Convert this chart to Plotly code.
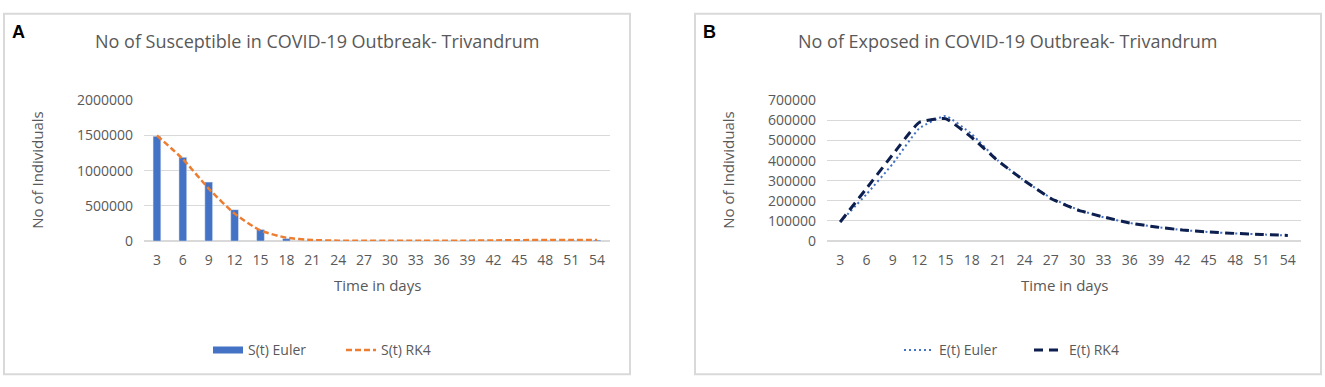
import plotly.graph_objects as go

days = [3, 6, 9, 12, 15, 18, 21, 24, 27, 30, 33, 36, 39, 42, 45, 48, 51, 54]
day_labels = [str(d) for d in days]

s_euler = [1490000, 1190000, 838000, 446000, 166000, 35000, 8000, 3000, 2000,
           2000, 2000, 2000, 3000, 5000, 8000, 10000, 12000, 14000]
s_rk4 = [1500000, 1165000, 745000, 390000, 150000, 48000, 15000, 6000, 4000,
         3000, 3000, 4000, 6000, 9000, 13000, 15000, 16000, 16000]

e_euler = [95000, 233000, 385000, 560000, 622000, 531000, 400000, 300000, 215000,
           158000, 118000, 90000, 70000, 55000, 45000, 38000, 33000, 28000]
e_rk4 = [95000, 262000, 431000, 590000, 609000, 515000, 398000, 300000, 212000,
         155000, 120000, 90000, 70000, 55000, 45000, 38000, 33000, 28000]

W, H = 1325, 387
FONT = "Open Sans"
GREY = "#595959"
GRID = "#d9d9d9"

def px(x):
    return x / W

def py(y):
    return 1 - y / H

fig = go.Figure()

# Panel A
fig.add_trace(go.Bar(x=day_labels, y=s_euler, marker_color="#4472C4", showlegend=False,
                     xaxis="x", yaxis="y", name="S(t) Euler"))
fig.add_trace(go.Scatter(x=[None], y=[None], mode="lines", name="S(t) Euler",
                         line=dict(color="#4472C4", width=7), xaxis="x", yaxis="y",
                         legend="legend"))
fig.add_trace(go.Scatter(x=day_labels, y=s_rk4, mode="lines", name="S(t) RK4",
                         line=dict(color="#ED7D31", width=2.5, dash="6px,3px", shape="spline", smoothing=0.6),
                         xaxis="x", yaxis="y", legend="legend"))

# Panel B
fig.add_trace(go.Scatter(x=day_labels, y=e_euler, mode="lines", name="E(t) Euler",
                         line=dict(color="#4472C4", width=2, dash="2px,3px", shape="spline", smoothing=0.4),
                         xaxis="x2", yaxis="y2", legend="legend2"))
fig.add_trace(go.Scatter(x=day_labels, y=e_rk4, mode="lines", name="E(t) RK4",
                         line=dict(color="#0d1f4f", width=3, dash="9px,6px", shape="spline", smoothing=0.4),
                         xaxis="x2", yaxis="y2", legend="legend2"))

axis_common = dict(
    showline=False, ticks="", tickfont=dict(family=FONT, size=14, color=GREY),
)
ydom = [py(243), py(95)]

fig.update_layout(
    width=W, height=H,
    margin=dict(l=0, r=0, t=0, b=0),
    paper_bgcolor="white", plot_bgcolor="white",
    bargap=0.70,
    font=dict(family=FONT, color=GREY),
    xaxis=dict(domain=[px(144), px(610)], type="category", range=[-0.5, 17.5],
               showgrid=False, zeroline=False, ticklabelstandoff=9, anchor="y", **axis_common),
    yaxis=dict(domain=ydom, range=[0, 2000000], tickvals=[0, 500000, 1000000, 1500000, 2000000],
               ticktext=["0", "500000", "1000000", "1500000", "2000000"],
               showgrid=True, gridcolor=GRID, gridwidth=1, zeroline=True, zerolinecolor=GRID,
               zerolinewidth=1.5, ticklabelstandoff=10, anchor="x", **axis_common),
    xaxis2=dict(domain=[px(827), px(1301)], type="category", range=[-0.5, 17.5],
                showgrid=False, zeroline=False, ticklabelstandoff=9, anchor="y2", **axis_common),
    yaxis2=dict(domain=ydom, range=[0, 700000], tickvals=[i * 100000 for i in range(8)],
                ticktext=[str(i * 100000) for i in range(8)],
                showgrid=True, gridcolor=GRID, gridwidth=1, zeroline=True, zerolinecolor=GRID,
                zerolinewidth=1.5, ticklabelstandoff=10, anchor="x2", **axis_common),
    legend=dict(orientation="h", x=px(341), y=py(358), xanchor="center", yanchor="middle",
                entrywidth=88, font=dict(family=FONT, size=14, color=GREY), bgcolor="rgba(0,0,0,0)"),
    legend2=dict(orientation="h", x=px(1029), y=py(358), xanchor="center", yanchor="middle",
                 entrywidth=85, font=dict(family=FONT, size=14, color=GREY), bgcolor="rgba(0,0,0,0)"),
    showlegend=True,
)

shapes = []
for x0, x1 in [(4, 630), (695, 1321)]:
    shapes.append(dict(type="rect", xref="paper", yref="paper",
                       x0=px(x0), x1=px(x1), y0=py(383), y1=py(4),
                       line=dict(color=GRID, width=2), fillcolor="rgba(0,0,0,0)", layer="below"))
fig.update_layout(shapes=shapes)

ann = []
def add_text(x, y, text, size, color=GREY, bold=False, angle=0, family=FONT):
    ann.append(dict(x=px(x), y=py(y), xref="paper", yref="paper", text=(f"<b>{text}</b>" if bold else text),
                    showarrow=False, xanchor="center", yanchor="middle", textangle=angle,
                    font=dict(family=family, size=size, color=color)))

add_text(18, 23, "A", 18, color="black", bold=True, family="Liberation Sans")
add_text(709, 23, "B", 18, color="black", bold=True, family="Liberation Sans")
add_text(317, 33, "No of Susceptible in COVID-19 Outbreak- Trivandrum", 18)
add_text(1008, 33, "No of Exposed in COVID-19 Outbreak- Trivandrum", 18)
add_text(377, 289, "Time in days", 15)
add_text(1064, 289, "Time in days", 15)
add_text(37, 169, "No of Individuals", 15, angle=-90)
add_text(728, 169, "No of Individuals", 15, angle=-90)
fig.update_layout(annotations=ann)

fig.write_html("out.html", config={"displayModeBar": False},
               post_script="document.body.style.margin='0';document.body.style.padding='0';")
